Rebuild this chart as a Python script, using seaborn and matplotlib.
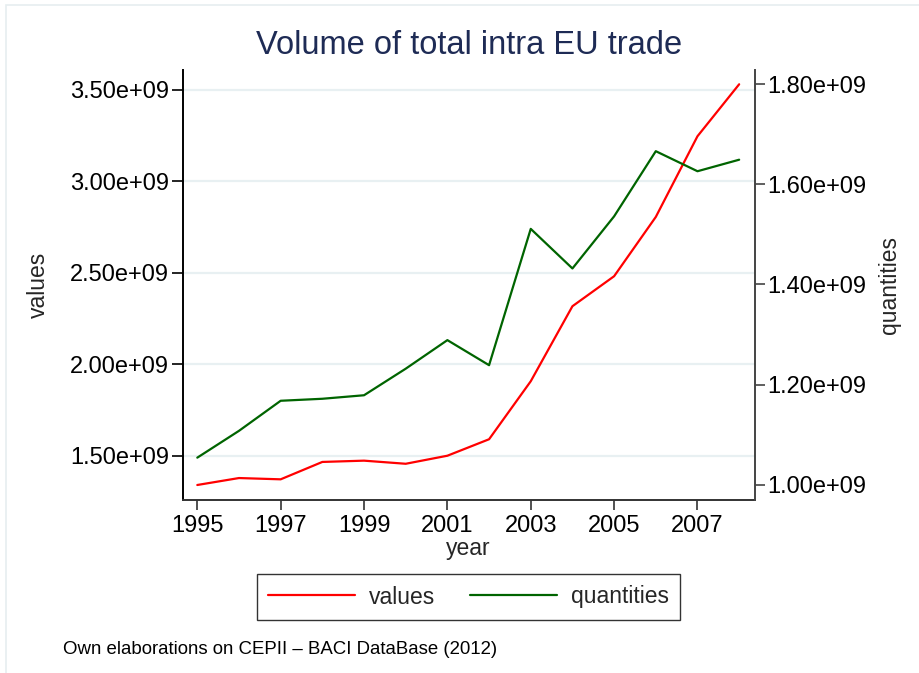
import matplotlib
matplotlib.use("Agg")
import matplotlib.pyplot as plt
import matplotlib.ticker as mticker
from matplotlib.patches import Rectangle
from matplotlib.lines import Line2D
import seaborn as sns
import pandas as pd

years = [1995, 1996, 1997, 1998, 1999, 2000, 2001, 2002, 2003, 2004, 2005, 2006, 2007, 2008]
values = [1.340e9, 1.378e9, 1.371e9, 1.466e9, 1.473e9, 1.456e9, 1.500e9, 1.590e9,
          1.907e9, 2.317e9, 2.481e9, 2.805e9, 3.246e9, 3.530e9]
quantities = [1.0545e9, 1.108e9, 1.168e9, 1.172e9, 1.179e9, 1.232e9, 1.289e9, 1.239e9,
              1.511e9, 1.432e9, 1.536e9, 1.666e9, 1.626e9, 1.649e9]
left_ticks = [1.5e9, 2.0e9, 2.5e9, 3.0e9, 3.5e9]
right_ticks = [1.0e9, 1.2e9, 1.4e9, 1.6e9, 1.8e9]
x_ticks = [1995, 1997, 1999, 2001, 2003, 2005, 2007]

title = "Volume of total intra EU trade"
note = "Own elaborations on CEPII \u2013 BACI DataBase (2012)"

sns.set_style("white")
plt.rcParams["font.family"] = ["Liberation Sans", "DejaVu Sans"]

df = pd.DataFrame({"year": years, "values": values, "quantities": quantities})

W, H = 919, 673
fig = plt.figure(figsize=(W / 100, H / 100), dpi=100)
fig.patch.set_facecolor("white")
fig.patches.append(Rectangle((6 / W, -0.1), 1.2, 1.1 - 5 / H, transform=fig.transFigure,
                             fill=False, edgecolor="#E6EEF0", linewidth=1.2))

L, R, T, B = 183, 755, 70, 500
ax = fig.add_axes([L / W, 1 - B / H, (R - L) / W, (B - T) / H])
ax2 = ax.twinx()

red = "#FF0000"
green = "#006400"
sns.lineplot(data=df, x="year", y="values", ax=ax, color=red, linewidth=1.6, legend=False)
sns.lineplot(data=df, x="year", y="quantities", ax=ax2, color=green, linewidth=1.6, legend=False)

ax.set_xlim(1994.657, 2008.38)
ax.set_ylim(1.258e9, 3.608e9)
ax2.set_ylim(0.970e9, 1.828e9)

fmt = mticker.FuncFormatter(lambda v, p: "{:.2e}".format(v))
ax.set_yticks(left_ticks)
ax.yaxis.set_major_formatter(fmt)
ax2.set_yticks(right_ticks)
ax2.yaxis.set_major_formatter(fmt)
ax.set_xticks(x_ticks)

ax.grid(axis="y", color="#E8F0F2", linewidth=1.6)
ax.grid(axis="x", visible=False)
ax2.grid(False)
ax.set_axisbelow(True)

for s in ["top", "right"]:
    ax.spines[s].set_visible(False)
ax.spines["left"].set_color("#000000")
ax.spines["bottom"].set_color("#333333")
for s in ["top", "left", "bottom"]:
    ax2.spines[s].set_visible(False)
ax2.spines["right"].set_color("#444444")
for sp in list(ax.spines.values()) + list(ax2.spines.values()):
    sp.set_linewidth(1.4)

ax.tick_params(axis="y", direction="out", length=8, width=1.2, pad=2, labelsize=17,
               colors="#000000", left=True)
ax.tick_params(axis="x", direction="out", length=7.5, width=1.2, pad=3, labelsize=17,
               color="#333333", labelcolor="#000000", bottom=True)
ax2.tick_params(axis="y", direction="out", length=7, width=1.2, pad=2, labelsize=17,
                color="#444444", labelcolor="#000000", right=True)

ax.set_xlabel("year", fontsize=16.5)
ax.set_ylabel("values", fontsize=16.5)
ax2.set_ylabel("quantities", fontsize=16.5)
ax.xaxis.set_label_coords((468 - L) / (R - L), (B - 548) / (B - T))
ax.xaxis.label.set_va("center")
ax.yaxis.set_label_coords((38 - L) / (R - L), 0.5)
ax.yaxis.label.set_va("center")
ax.yaxis.label.set_rotation_mode("anchor")
ax2.yaxis.set_label_coords((890 - L) / (R - L), 0.5)
ax2.yaxis.label.set_va("center")
ax2.yaxis.label.set_rotation(90)
ax2.yaxis.label.set_rotation_mode("anchor")

fig.text(469 / W, 1 - 45 / H, title, ha="center", va="center", fontsize=23.5, color="#1E2B55")

handles = [Line2D([], [], color=red, linewidth=1.6), Line2D([], [], color=green, linewidth=1.6)]
leg = fig.legend(handles, ["values", "quantities"], loc="center", bbox_to_anchor=(468.5 / W, 1 - 597 / H),
                 ncol=2, fontsize=16.5, frameon=True, fancybox=False, shadow=False,
                 handlelength=3.8, handletextpad=0.6, columnspacing=1.5, borderpad=0.5,
                 borderaxespad=0)
leg.get_frame().set_edgecolor("#000000")
leg.get_frame().set_linewidth(1.0)

fig.text(63 / W, 1 - 650 / H, note, ha="left", va="center", fontsize=13.4, color="#000000")

fig.savefig("out.png", dpi=100, facecolor="white")
